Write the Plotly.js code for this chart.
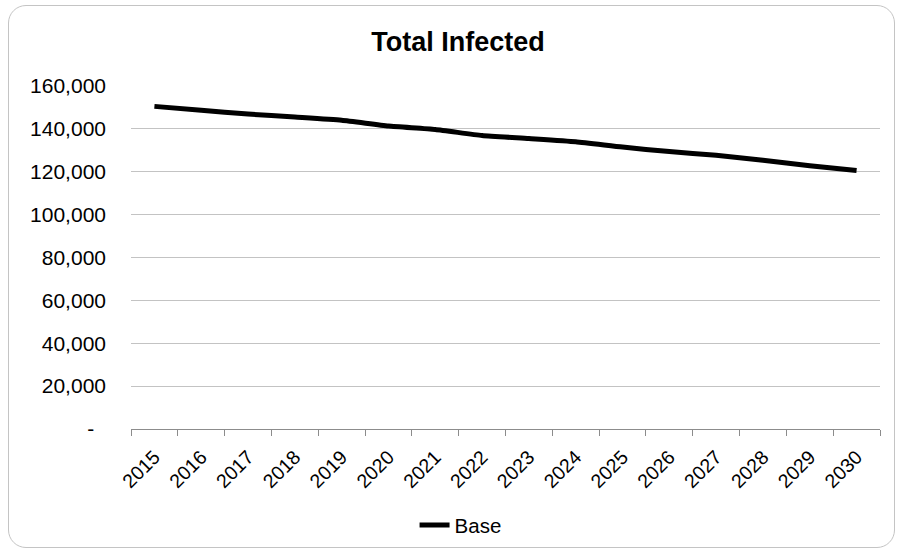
<!DOCTYPE html>
<html>
<head>
<meta charset="utf-8">
<script src="https://cdn.plot.ly/plotly-3.0.1.min.js"></script>
<style>
  html, body { margin: 0; padding: 0; background: #ffffff; }
  #frame { position: absolute; left: 8px; top: 5px; width: 887px; height: 543px;
           border: 1px solid #c4c4c4; border-radius: 18px; box-sizing: border-box; }
  #chart { position: absolute; left: 0; top: 0; width: 898px; height: 557px; }
</style>
</head>
<body>
<div id="frame"></div>
<div id="chart"></div>
<script>
const years = ["2015","2016","2017","2018","2019","2020","2021","2022","2023","2024","2025","2026","2027","2028","2029","2030"];
const baseValues = [150500, 148700, 146900, 145500, 144000, 141300, 139700, 136900, 135500, 134000, 131500, 129400, 127700, 125400, 122800, 120600];
const yTickVals = [0, 20000, 40000, 60000, 80000, 100000, 120000, 140000, 160000];
const yTickText = ["-\u00a0\u00a0", "20,000", "40,000", "60,000", "80,000", "100,000", "120,000", "140,000", "160,000"];

const font = "Liberation Sans, Arial, sans-serif";

const trace = {
  x: years,
  y: baseValues,
  type: "scatter",
  mode: "lines",
  name: "Base",
  line: { color: "#000000", width: 5, shape: "spline", smoothing: 0.5 },
  hoverinfo: "x+y"
};

const layout = {
  width: 898,
  height: 557,
  paper_bgcolor: "rgba(0,0,0,0)",
  plot_bgcolor: "rgba(0,0,0,0)",
  margin: { l: 131, r: 18, t: 86, b: 128 },
  font: { family: font, color: "#000000", size: 21 },
  title: {
    text: "<b>Total Infected</b>",
    font: { family: font, size: 27, color: "#000000" },
    x: 0.51, xref: "container", xanchor: "center",
    y: 0.925, yref: "container", yanchor: "middle"
  },
  xaxis: {
    type: "category",
    tickangle: -45,
    ticks: "outside",
    tickson: "boundaries",
    ticklen: 6,
    tickcolor: "#8c8c8c",
    showline: true,
    linecolor: "#8c8c8c",
    linewidth: 1,
    showgrid: false,
    ticklabelstandoff: 8,
    tickfont: { family: font, size: 19.5, color: "#000000" },
    range: [-0.5, 15.5]
  },
  yaxis: {
    range: [0, 160000],
    tickvals: yTickVals,
    ticktext: yTickText,
    showgrid: true,
    gridcolor: "#c3c3c3",
    gridwidth: 1,
    zeroline: false,
    showline: false,
    ticks: "",
    ticklabelstandoff: 24,
    tickfont: { family: font, size: 21, color: "#000000" }
  },
  showlegend: true,
  legend: {
    orientation: "h",
    x: 0.44, xref: "paper", xanchor: "center",
    y: 0.057, yref: "container", yanchor: "middle",
    font: { family: font, size: 20.5, color: "#000000" },
    bgcolor: "rgba(0,0,0,0)"
  }
};

Plotly.newPlot("chart", [trace], layout, { displayModeBar: false, responsive: false });
</script>
</body>
</html>
